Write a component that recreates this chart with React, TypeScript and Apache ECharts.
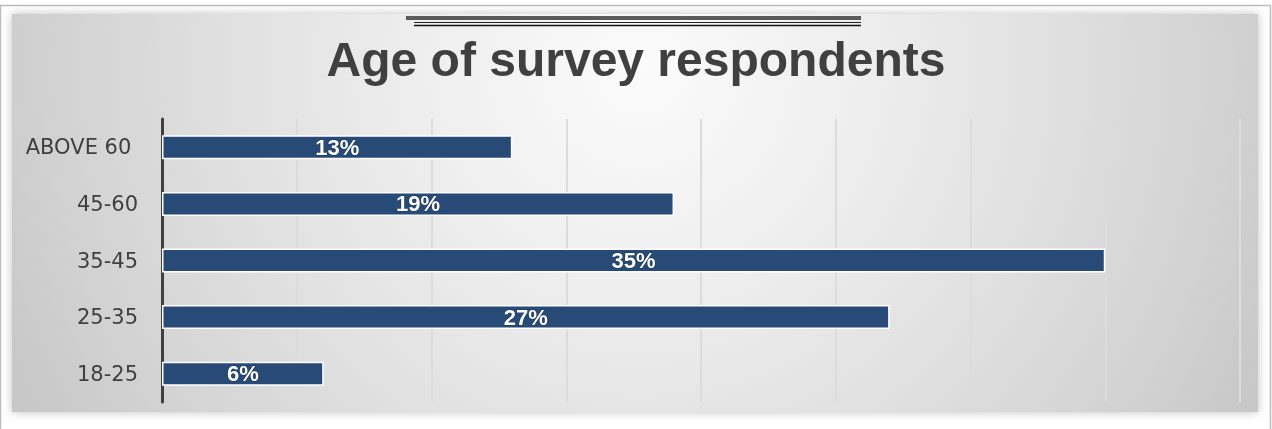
import React, { useEffect, useRef } from "react";
import * as echarts from "echarts";

const categories = ["18-25", "25-35", "35-45", "45-60", "ABOVE 60"];
const shares = [6, 27, 35, 19, 13];
const titleText = "Age of survey respondents";

export default function App() {
  const ref = useRef<HTMLDivElement>(null);
  useEffect(() => {
    if (!ref.current) return;
    const chart = echarts.init(ref.current, null, { renderer: "svg" });
    chart.setOption({
      animation: false,
      graphic: [
        {
          type: "rect",
          z: -10,
          silent: true,
          shape: { x: 0.5, y: 5.5, width: 1270, height: 440 },
          style: { fill: "#ffffff", stroke: "#bdbdbd", lineWidth: 1.5 },
        },
        {
          type: "rect",
          z: -9,
          silent: true,
          shape: { x: 12, y: 14, width: 1246, height: 398 },
          style: {
            fill: new echarts.graphic.RadialGradient(
              640,
              70,
              690,
              [
                { offset: 0, color: "#fbfbfb" },
                { offset: 0.3, color: "#efefef" },
                { offset: 0.6, color: "#e0e0e0" },
                { offset: 0.85, color: "#d2d2d2" },
                { offset: 1, color: "#c8c8c8" },
              ],
              true
            ),
            shadowBlur: 10,
            shadowColor: "rgba(0,0,0,0.25)",
          },
        },
        {
          type: "line",
          z: -5,
          silent: true,
          shape: { x1: 406, y1: 18, x2: 861, y2: 18 },
          style: { stroke: "#5a5a5a", lineWidth: 4 },
        },
        {
          type: "line",
          z: -5,
          silent: true,
          shape: { x1: 414, y1: 22.5, x2: 861, y2: 22.5 },
          style: { stroke: "#222222", lineWidth: 1 },
        },
        {
          type: "line",
          z: -5,
          silent: true,
          shape: { x1: 414, y1: 25.5, x2: 861, y2: 25.5 },
          style: { stroke: "#111111", lineWidth: 1.5 },
        },
      ],
      title: {
        text: titleText,
        left: "center",
        top: 30,
        textStyle: {
          fontFamily: "Liberation Sans",
          fontWeight: "bold",
          fontSize: 48,
          color: "#404040",
        },
      },
      grid: { left: 162, right: 32, top: 119, bottom: 27 },
      xAxis: {
        type: "value",
        min: 0,
        max: 40,
        interval: 5,
        axisLabel: { show: false },
        axisLine: { show: false },
        axisTick: { show: false },
        splitLine: { show: true, lineStyle: { color: "#dcdcdc", width: 2 } },
      },
      yAxis: {
        type: "category",
        data: categories,
        axisLine: { show: true, lineStyle: { color: "#404040", width: 3 } },
        axisTick: { show: false },
        axisLabel: {
          fontFamily: "DejaVu Sans",
          fontSize: 21,
          color: "#404040",
          margin: 24,
          formatter: (v: string) => (v === "ABOVE 60" ? v + "\u00a0" : v),
        },
      },
      series: [
        {
          type: "bar",
          data: shares,
          barWidth: 24,
          itemStyle: { color: "#274b76", borderColor: "#ffffff", borderWidth: 1.5 },
          label: {
            show: true,
            position: "inside",
            formatter: "{c}%",
            color: "#ffffff",
            fontFamily: "Liberation Sans",
            fontWeight: "bold",
            fontSize: 22,
            textBorderColor: "#1c3556",
            textBorderWidth: 1,
          },
        },
      ],
    });
    return () => chart.dispose();
  }, []);
  return (
    <div
      ref={ref}
      style={{ position: "fixed", left: 0, top: 0, width: 1272, height: 429 }}
    />
  );
}
